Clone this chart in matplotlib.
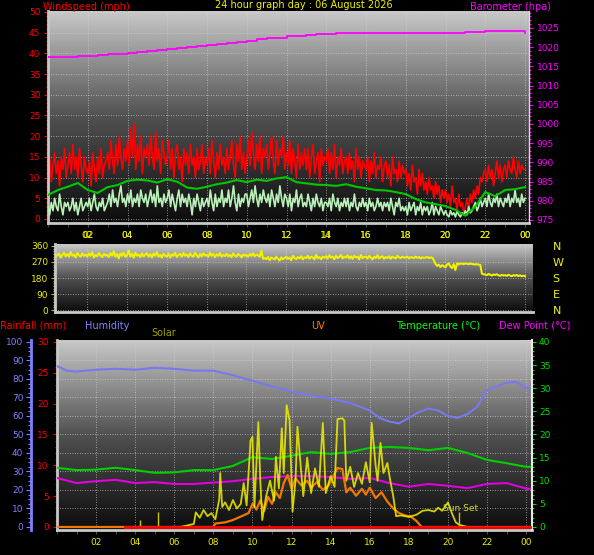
import numpy as np
import matplotlib.pyplot as plt
from matplotlib.colors import LinearSegmentedColormap
from matplotlib.ticker import MultipleLocator, FixedLocator

plt.rcParams['font.family'] = 'DejaVu Sans'
plt.rcParams['font.size'] = 6.5

# ---- data ----
title = '24 hour graph day : 06 August 2026'
hour_ticks = [2, 4, 6, 8, 10, 12, 14, 16, 18, 20, 22, 24]
hour_labels = ['02', '04', '06', '08', '10', '12', '14', '16', '18', '20', '22', '00']

# 5 minute samples, 00:00 .. 24:00 (one row per hour)
gust = [10, 15, 9, 13, 16, 11, 14, 8, 15, 12, 17, 10,
        13, 16, 11, 18, 12, 15, 10, 17, 13, 9, 15, 12,
        11, 14, 8, 16, 12, 9, 15, 11, 17, 10, 13, 14,
        16, 12, 19, 14, 11, 18, 13, 20, 15, 12, 17, 14,
        19, 13, 22, 15, 23, 12, 18, 14, 20, 11, 17, 15,
        18, 13, 20, 15, 12, 21, 14, 17, 11, 19, 16, 13,
        15, 19, 12, 17, 10, 16, 18, 12, 15, 9, 17, 13,
        16, 11, 18, 13, 15, 10, 17, 12, 14, 18, 11, 15,
        13, 17, 11, 19, 14, 10, 16, 12, 18, 13, 15, 11,
        17, 12, 15, 19, 13, 10, 18, 14, 20, 12, 16, 11,
        15, 19, 13, 21, 16, 12, 18, 14, 20, 11, 17, 15,
        18, 12, 16, 20, 14, 11, 19, 13, 17, 15, 20, 12,
        16, 13, 19, 11, 17, 14, 10, 18, 12, 16, 13, 17,
        12, 17, 10, 15, 18, 11, 14, 16, 9, 17, 13, 15,
        14, 17, 11, 16, 12, 18, 10, 15, 13, 17, 11, 14,
        15, 11, 16, 12, 14, 9, 17, 12, 15, 10, 14, 13,
        12, 15, 9, 14, 11, 16, 10, 13, 12, 15, 9, 13,
        14, 10, 13, 8, 15, 11, 12, 9, 14, 10, 13, 11,
        12, 8, 11, 7, 13, 9, 10, 6, 12, 8, 11, 7,
        9, 6, 10, 7, 8, 5, 9, 6, 8, 4, 7, 5,
        7, 4, 6, 3, 8, 4, 5, 2, 6, 3, 4, 1.5,
        3, 5, 2, 6, 4, 7, 5, 8, 6, 10, 9, 11,
        12, 9, 13, 10, 12, 8, 11, 14, 10, 13, 9, 12,
        13, 10, 14, 12, 11, 15, 12, 10, 14, 11, 13, 12,
        12]
wind = [3, 1, 4, 2, 5, 3, 2, 6, 3, 1, 4, 3,
        4, 2, 3, 5, 2, 4, 1, 3, 5, 2, 3, 4,
        3, 5, 2, 4, 6, 3, 2, 4, 3, 5, 2, 3,
        4, 6, 3, 7, 4, 5, 3, 6, 8, 4, 5, 3,
        6, 4, 7, 3, 5, 4, 6, 3, 7, 5, 4, 6,
        3, 5, 7, 4, 6, 3, 8, 4, 5, 3, 6, 4,
        5, 7, 3, 6, 4, 2, 5, 7, 3, 6, 4, 5,
        3, 6, 4, 1, 5, 3, 6, 4, 2, 5, 3, 4,
        5, 3, 7, 4, 2, 6, 3, 5, 4, 7, 3, 5,
        4, 7, 3, 5, 8, 4, 2, 6, 3, 5, 4, 6,
        6, 3, 5, 7, 4, 8, 5, 3, 6, 4, 7, 5,
        4, 6, 3, 7, 5, 3, 6, 4, 8, 5, 3, 6,
        5, 3, 6, 2, 5, 4, 7, 3, 5, 6, 3, 4,
        3, 6, 4, 2, 5, 3, 6, 4, 3, 5, 2, 4,
        4, 3, 5, 2, 6, 4, 3, 5, 2, 4, 3, 5,
        3, 5, 2, 4, 3, 6, 3, 2, 4, 3, 5, 3,
        4, 2, 5, 3, 4, 2, 3, 5, 3, 4, 2, 4,
        3, 4, 2, 5, 3, 1, 4, 3, 5, 2, 3, 2,
        3, 1, 4, 2, 3, 4, 1, 3, 2, 4, 1, 3,
        2, 3, 1, 2, 4, 1, 3, 2, 1, 3, 2, 1,
        2, 1, 0.5, 2, 1, 1.5, 0.5, 2, 1, 0.5, 1.5, 1,
        2, 1, 3, 1.5, 2, 3, 4, 2, 3, 5, 3, 4,
        5, 3, 6, 4, 3, 5, 4, 6, 3, 5, 4, 3,
        5, 4, 6, 3, 5, 4, 7, 4, 5, 3, 6, 4,
        5]
wind_dir = [305, 320, 298, 312, 325, 300, 308, 318, 295, 310, 322, 302,
            315, 300, 326, 305, 312, 296, 320, 308, 300, 318, 304, 312,
            300, 318, 305, 325, 296, 310, 302, 320, 308, 298, 315, 305,
            312, 298, 320, 306, 330, 300, 315, 290, 318, 305, 322, 300,
            308, 335, 300, 316, 295, 322, 305, 312, 298, 318, 302, 310,
            320, 300, 314, 296, 318, 305, 325, 300, 310, 295, 316, 305,
            300, 318, 295, 312, 305, 322, 298, 310, 315, 300, 320, 305,
            312, 298, 318, 305, 300, 322, 308, 296, 315, 302, 318, 306,
            310, 300, 322, 305, 315, 298, 312, 305, 320, 300, 310, 303,
            316, 302, 310, 298, 318, 305, 300, 315, 308, 296, 312, 305,
            310, 300, 315, 305, 318, 302, 312, 308, 300, 335, 288, 292,
            286, 298, 280, 295, 290, 284, 300, 288, 278, 296, 285, 292,
            300, 288, 295, 280, 305, 292, 286, 298, 290, 302, 285, 296,
            292, 305, 288, 300, 295, 285, 310, 290, 298, 286, 300, 294,
            302, 290, 308, 295, 300, 286, 305, 292, 298, 310, 290, 300,
            295, 308, 290, 302, 288, 305, 296, 300, 285, 310, 292, 298,
            300, 290, 305, 295, 285, 300, 292, 308, 290, 298, 302, 288,
            298, 292, 302, 288, 300, 295, 290, 305, 296, 292, 300, 294,
            296, 300, 290, 298, 295, 292, 300, 294, 298, 290, 296, 293,
            295, 298, 292, 296, 294, 280, 260, 248, 255, 242, 252, 246,
            240, 255, 262, 245, 236, 258, 225, 262, 256, 262, 260, 258,
            262, 260, 258, 261, 259, 257, 256, 258, 255, 254, 205, 200,
            200, 196, 203, 198, 194, 200, 197, 201, 195, 192, 198, 194,
            196, 192, 198, 194, 190, 196, 193, 197, 191, 195, 190, 193,
            190]

# 30 minute samples
wind_avg = [5.8, 7.0, 7.8, 8.7, 7.0, 6.3, 7.7, 8.2, 9.2, 9.5, 9.3, 8.8,
            9.6, 9.0, 7.6, 7.3, 7.8, 8.4, 8.8, 9.4, 8.9, 9.5, 9.2, 9.8,
            10.1, 8.9, 8.6, 8.3, 8.2, 8.0, 8.4, 7.8, 7.4, 7.0, 6.9, 6.5,
            6.0, 4.8, 4.0, 3.6, 3.1, 2.2, 0.8, 3.0, 6.5, 5.5, 7.0, 7.2,
            7.7]
baro = [1017.3, 1017.5, 1017.5, 1017.6, 1017.8, 1018.0, 1018.1, 1018.3,
        1018.5, 1018.7, 1018.9, 1019.2, 1019.4, 1019.7, 1020.0, 1020.2,
        1020.5, 1020.8, 1021.1, 1021.4, 1021.7, 1022.0, 1022.3, 1022.5,
        1022.8, 1023.0, 1023.2, 1023.3, 1023.5, 1023.6, 1023.6, 1023.7,
        1023.7, 1023.7, 1023.7, 1023.7, 1023.7, 1023.7, 1023.7, 1023.7,
        1023.7, 1023.8, 1024.0, 1024.0, 1024.1, 1024.3, 1024.3, 1024.1,
        1023.8]

hum_h = [0, 0.5, 1, 2, 3, 4, 5, 6, 7, 8, 9, 10, 11, 12, 13, 14, 15, 16,
         16.5, 17, 17.5, 18, 18.5, 19, 19.5, 20, 20.5, 21, 21.5, 22, 22.5,
         23, 23.5, 24, 24.3]
humidity = [87, 84.5, 84, 85, 85.5, 85, 86, 85.5, 84.5, 84.5, 82, 79, 76,
            73, 71, 69.5, 67, 63, 59, 57, 56, 59, 62, 64, 63, 60, 59, 61,
            65, 74, 76, 78, 78.5, 75, 75]

th_h = [0, 1, 2, 3, 4, 5, 6, 7, 8, 9, 10, 11, 12, 13, 14, 15, 16, 17, 18,
        19, 20, 21, 22, 23, 24, 24.3]
temperature = [12.8, 12.3, 12.4, 12.8, 12.3, 11.7, 11.8, 12.3, 12.3, 13.2,
               15.1, 14.7, 15.4, 16.2, 15.8, 16.2, 17.1, 17.3, 17.1, 16.6,
               17.1, 16.0, 14.5, 13.8, 13.0, 13.0]
dew_point = [10.6, 9.5, 9.9, 10.2, 9.5, 9.7, 9.3, 9.3, 9.6, 9.9, 10.4, 10.8,
             11.0, 11.0, 10.8, 10.4, 10.6, 9.5, 8.7, 9.3, 8.9, 8.4, 9.3, 9.5,
             8.3, 8.2]

solar_h = [6.3, 6.6, 7.0, 7.1, 7.3, 7.5, 7.7, 7.9, 8.1, 8.3, 8.35, 8.45,
           8.6, 8.8, 9.0, 9.2, 9.4, 9.55, 9.7, 9.9, 10.0, 10.1, 10.3, 10.4,
           10.5, 10.7, 10.9, 11.1, 11.2, 11.35, 11.5, 11.6, 11.75, 11.9,
           12.05, 12.2, 12.3, 12.45, 12.6, 12.8, 13.0, 13.2, 13.4, 13.6,
           13.75, 14.0, 14.2, 14.35, 14.6, 14.7, 14.8, 15.0, 15.2, 15.4,
           15.6, 15.8, 16.0, 16.1, 16.3, 16.4, 16.55, 16.7, 16.9, 17.05,
           17.2, 17.35, 17.6, 18.0, 18.4, 18.7, 19.0, 19.3, 19.5, 19.7,
           19.9, 20.0, 20.2, 20.4, 20.6, 21.0, 24.3]
solar = [0, 8, 20, 95, 60, 110, 70, 90, 50, 180, 350, 130,
         160, 110, 175, 120, 150, 285, 140, 560, 585, 130, 680, 300,
         45, 200, 300, 170, 455, 250, 640, 350, 790, 690,
         100, 300, 650, 420, 200, 450, 220, 380, 260, 675,
         220, 330, 260, 700, 705, 690, 300, 390, 260, 350,
         280, 420, 290, 675, 400, 300, 545, 350, 415, 300,
         200, 70, 75, 65, 80, 105, 110, 100, 125, 105,
         140, 160, 90, 30, 13, 0, 0]

uv_h = [0, 8.0, 8.1, 8.6, 9.0, 9.4, 9.8, 10.0, 10.2, 10.4, 10.6, 10.8, 11.0,
        11.2, 11.4, 11.6, 11.8, 12.0, 12.2, 12.5, 12.8, 13.0, 13.3, 13.6,
        13.9, 14.1, 14.35, 14.6, 14.8, 15.0, 15.3, 15.6, 15.8, 16.0, 16.3,
        16.6, 16.9, 17.2, 17.5, 17.8, 18.1, 18.4, 18.6, 18.65, 24.3]
uv = [0, 0, 0.3, 0.4, 0.6, 0.9, 1.2, 2.0, 1.5, 2.3, 1.4, 2.6, 2.0,
      3.0, 2.5, 3.8, 4.5, 3.3, 4.2, 3.6, 4.0, 3.4, 3.9, 3.2,
      3.6, 4.3, 5.1, 5.0, 3.0, 3.4, 2.7, 3.3, 2.8, 3.4, 2.5,
      3.0, 2.2, 1.6, 1.2, 1.0, 0.9, 0.5, 0.1, 0, 0]

rain_h = [3.5, 24.2]
rain = [0, 0]

marker_h = [4.25, 5.17, 10.84, 20.56]
marker_top = [45, 97, 15, 97]

t5 = np.arange(len(gust)) / 12.0
t30 = np.arange(len(wind_avg)) / 2.0

YEL = '#f0f000'
bg = LinearSegmentedColormap.from_list('bg', ['#0c0c0c', '#505050', '#c8c8c8'])
GRID = dict(color='#d8d8d8', lw=0.6, ls=(0, (1, 2)), alpha=0.8)


def backdrop(ax):
    x0, x1 = ax.get_xlim()
    y0, y1 = ax.get_ylim()
    ax.imshow(np.linspace(0, 1, 256).reshape(-1, 1), cmap=bg, origin='lower',
              aspect='auto', extent=(x0, x1, y0, y1), zorder=0)
    ax.set_xlim(x0, x1)
    ax.set_ylim(y0, y1)


def bare(ax):
    for s in ax.spines.values():
        s.set_visible(False)


fig = plt.figure(figsize=(5.94, 5.55), dpi=100, facecolor='black')
W, H = 594.0, 555.0


def rect(x0, y0, x1, y1):
    return [x0 / W, 1 - y1 / H, (x1 - x0) / W, (y1 - y0) / H]


# ---------------- wind / barometer ----------------
ax1 = fig.add_axes(rect(48, 11, 529, 223))
ax1.set_xlim(0, 24.2)
ax1.set_ylim(-0.97, 50.24)
backdrop(ax1)
bare(ax1)
ax1.spines['left'].set_visible(True)
ax1.spines['bottom'].set_visible(True)
ax1.spines['left'].set(color='#c8c8c8', lw=2)
ax1.spines['bottom'].set(color='#c8c8c8', lw=2)
ax1.yaxis.set_major_locator(MultipleLocator(5))
ax1.yaxis.set_minor_locator(MultipleLocator(1))
ax1.xaxis.set_major_locator(FixedLocator(hour_ticks))
ax1.xaxis.set_minor_locator(MultipleLocator(1))
ax1.set_xticklabels(hour_labels)
ax1.tick_params(axis='y', which='both', colors='#ff0000', width=0.8, pad=2.5)
ax1.tick_params(axis='y', which='major', length=3)
ax1.tick_params(axis='y', which='minor', length=1.5)
ax1.tick_params(axis='x', which='both', color='#505050', labelcolor=YEL, length=3, pad=3)
ax1.grid(True, **GRID)
ax1.set_axisbelow(True)
ax1.plot(t5, gust, color='#ff0000', lw=1.2, zorder=2)
ax1.plot(t5, wind, color='#b8f0b8', lw=1.2, zorder=3)
ax1.plot(t30, wind_avg, color='#00c800', lw=1.5, zorder=4)

ax1b = ax1.twinx()
bare(ax1b)
ax1b.spines['right'].set_visible(True)
ax1b.spines['right'].set(color='#f0d0f0', lw=1)
ax1b.set_ylim(974.2, 1029.4)
ax1b.yaxis.set_major_locator(FixedLocator([975, 980, 985, 990, 995, 1000, 1005, 1010, 1015, 1020, 1025]))
ax1b.yaxis.set_minor_locator(MultipleLocator(1))
ax1b.tick_params(axis='y', which='both', colors='#ff00ff', width=0.8, pad=2.5)
ax1b.tick_params(axis='y', which='major', length=3)
ax1b.tick_params(axis='y', which='minor', length=1.5)
ax1b.plot(t30, baro, color='#ff00ff', lw=1.3, drawstyle='steps-post')

fig.text(43 / W, 1 - 7 / H, 'Windspeed (mph)', color='#ff0000', size=7, va='center')
fig.text(304 / W, 1 - 5 / H, title, color=YEL, size=7, va='center', ha='center')
fig.text(470 / W, 1 - 7 / H, 'Barometer (hpa)', color='#ff00ff', size=7, va='center')

# ---------------- wind direction ----------------
ax2 = fig.add_axes(rect(55, 244, 533, 312))
ax2.set_xlim(0.38, 24.4)
ax2.set_ylim(-11, 371)
backdrop(ax2)
bare(ax2)
ax2.spines['left'].set_visible(True)
ax2.spines['bottom'].set_visible(True)
ax2.spines['left'].set(color='#c8c8c8', lw=2)
ax2.spines['bottom'].set(color='#c8c8c8', lw=2)
ax2.yaxis.set_major_locator(FixedLocator([0, 90, 180, 270, 360]))
ax2.yaxis.set_minor_locator(MultipleLocator(15))
ax2.xaxis.tick_top()
ax2.xaxis.set_major_locator(FixedLocator(hour_ticks))
ax2.set_xticklabels(hour_labels)
ax2.tick_params(axis='x', length=0, labelcolor=YEL, pad=3)
ax2.tick_params(axis='y', which='both', color='#c8c800', labelcolor=YEL, width=0.8, pad=2)
ax2.tick_params(axis='y', which='major', length=3)
ax2.tick_params(axis='y', which='minor', length=1.5)
ax2.grid(True, **GRID)
ax2.set_axisbelow(True)
ax2.plot(t5, wind_dir, color=YEL, lw=1.5, zorder=3)

ax2c = ax2.twinx()
bare(ax2c)
ax2c.set_ylim(-11, 371)
ax2c.yaxis.set_major_locator(FixedLocator([360, 270, 180, 90, 0]))
ax2c.set_yticklabels(['N', 'W', 'S', 'E', 'N'])
ax2c.tick_params(axis='y', length=0, labelcolor=YEL, labelsize=8, pad=14)

# ---------------- rain / humidity / solar / uv / temperature ----------------
fig.text(0, 1 - 326 / H, 'Rainfall (mm)', color='#ff0000', size=7, va='center')
fig.text(85 / W, 1 - 326 / H, 'Humidity', color='#8080ff', size=7, va='center')
fig.text(151 / W, 1 - 333 / H, 'Solar', color='#a0a000', size=7, va='center')
fig.text(311 / W, 1 - 326 / H, 'UV', color='#ff8000', size=7, va='center')
fig.text(396 / W, 1 - 326 / H, 'Temperature (\u00b0C)', color='#00ff00', size=7, va='center')
fig.text(499 / W, 1 - 326 / H, 'Dew Point (\u00b0C)', color='#ff00ff', size=7, va='center')

lo, hi = -0.49 / 30, 30.32 / 30   # shared vertical frame for all scales

ax3 = fig.add_axes(rect(57, 340, 532, 530))
ax3.set_xlim(0, 24.3)
ax3.set_ylim(lo * 30, hi * 30)
backdrop(ax3)
bare(ax3)
ax3.spines['left'].set_visible(True)
ax3.spines['bottom'].set_visible(True)
ax3.spines['left'].set(color='#c8c8c8', lw=2)
ax3.spines['bottom'].set(color='#c8c8c8', lw=2)
ax3.yaxis.set_major_locator(MultipleLocator(5))
ax3.yaxis.set_minor_locator(MultipleLocator(1))
ax3.xaxis.set_major_locator(FixedLocator(hour_ticks))
ax3.xaxis.set_minor_locator(MultipleLocator(1))
ax3.set_xticklabels(hour_labels)
ax3.tick_params(axis='y', which='both', colors='#ff0000', width=0.8, pad=3)
ax3.tick_params(axis='y', which='major', length=3)
ax3.tick_params(axis='y', which='minor', length=1.5)
ax3.tick_params(axis='x', which='both', color='#505050', labelcolor=YEL, length=3, pad=3)
ax3.grid(True, axis='x', **GRID)
for v in np.arange(3, 30.1, 3):
    ax3.axhline(v, zorder=0.6, **GRID)

ax_h = ax3.twinx()
bare(ax_h)
ax_h.set_ylim(lo * 100, hi * 100)
ax_h.yaxis.tick_left()
ax_h.spines['left'].set_visible(True)
ax_h.spines['left'].set_position(('outward', 18.7))
ax_h.spines['left'].set(color='#8080ff', lw=2)
ax_h.yaxis.set_major_locator(MultipleLocator(10))
ax_h.yaxis.set_minor_locator(MultipleLocator(2.5))
ax_h.tick_params(axis='y', which='both', colors='#8080ff', width=0.8, pad=2)
ax_h.tick_params(axis='y', which='major', length=3.5)
ax_h.tick_params(axis='y', which='minor', length=2)
ax_h.plot(hum_h, humidity, color='#7878f0', lw=1.5)

ax_t = ax3.twinx()
bare(ax_t)
ax_t.spines['right'].set_visible(True)
ax_t.spines['right'].set(color='#e8e8e8', lw=1.5)
ax_t.set_ylim(lo * 40, hi * 40)
ax_t.yaxis.set_major_locator(MultipleLocator(5))
ax_t.yaxis.set_minor_locator(MultipleLocator(1))
ax_t.tick_params(axis='y', which='both', colors='#00e000', width=0.8, pad=2)
ax_t.tick_params(axis='y', which='major', length=3)
ax_t.tick_params(axis='y', which='minor', length=1.5)
ax_t.plot(th_h, temperature, color='#00d000', lw=1.5)
ax_t.plot(th_h, dew_point, color='#e000e0', lw=1.5)

ax_u = ax3.twinx()
ax_u.axis('off')
ax_u.set_ylim(lo * 16, hi * 16)
ax_u.plot(uv_h, uv, color='#f07800', lw=1.6)

ax_s = ax3.twinx()
ax_s.axis('off')
ax_s.set_ylim(lo * 1200, hi * 1200)
ax_s.plot(solar_h, solar, color='#f0f000', lw=1.3, alpha=0.85)
ax_s.vlines(marker_h, lo * 1200, marker_top, color='#c8c800', lw=1)
ax_s.text(19.74, 123, 'Sun Set', color='#d8d830', size=6.5, va='center')

ax_r = ax3.twinx()
ax_r.axis('off')
ax_r.set_ylim(lo * 30, hi * 30)
ax_r.plot(rain_h, rain, color='#ff0000', lw=2)

fig.savefig('out.png', dpi=100, facecolor='black')
